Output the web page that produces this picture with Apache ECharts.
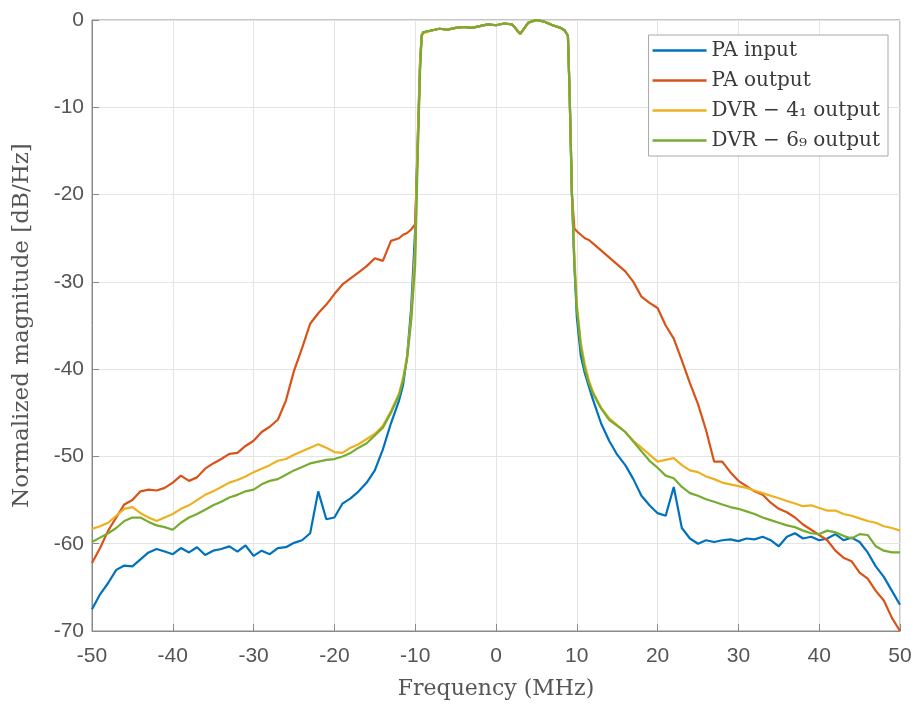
<!DOCTYPE html>
<html>
<head>
<meta charset="utf-8">
<script src="https://cdn.jsdelivr.net/npm/echarts@6/dist/echarts.min.js"></script>
<style>
  html, body { margin: 0; padding: 0; background: #fff; }
  #main { width: 915px; height: 705px; }
</style>
</head>
<body>
<div id="main"></div>
<script>
// frequency grid (MHz): lower skirt, passband, upper skirt
var freqLeft = [-50,-49,-48,-47,-46,-45,-44,-43,-42,-41,
  -40,-39,-38,-37,-36,-35,-34,-33,-32,-31,
  -30,-29,-28,-27,-26,-25,-24,-23,-22,-21,
  -20,-19,-18,-17,-16,-15,-14,-13,-12,
  -11.5,-11,-10.5,-10,-9.7,-9.4,-9.2];
var freqMid = [-9,-8,-7,-6,-5,-4,-3,-2,-1,0,1,2,3,4,5,6,7,8,8.5,8.9];
var freqRight = [9.1,9.4,9.7,10,10.5,11,11.5,
  12,13,14,15,16,17,18,19,20,
  21,22,23,24,25,26,27,28,29,30,
  31,32,33,34,35,36,37,38,39,40,
  41,42,43,44,45,46,47,48,49,50];

var passband = [-1.4,-1.2,-1.0,-1.1,-0.9,-0.8,-0.9,-0.7,-0.5,-0.6,-0.4,-0.5,-1.6,-0.3,0,-0.2,-0.6,-0.9,-1.2,-1.8];

var paInLeft = [-67.5,-65.8,-64.5,-63,-62.5,-62.6,-61.8,-61,-60.6,-60.9,
  -61.2,-60.5,-61,-60.4,-61.3,-60.8,-60.6,-60.3,-60.9,-60.2,
  -61.4,-60.8,-61.2,-60.5,-60.4,-59.9,-59.6,-58.8,-54,-57.2,
  -57,-55.4,-54.8,-54,-53,-51.6,-49.2,-46.2,-43.6,
  -41.8,-38.5,-33,-24,-14,-5,-1.8];
var paInRight = [-8,-20,-28,-34,-38.5,-40.5,-42,
  -43.5,-46.2,-48.2,-49.8,-51,-52.6,-54.5,-55.6,-56.5,
  -56.8,-53.5,-58.2,-59.4,-60,-59.6,-59.8,-59.6,-59.5,-59.7,
  -59.4,-59.5,-59.2,-59.6,-60.3,-59.2,-58.8,-59.4,-59.2,-59.6,
  -59.4,-58.9,-59.6,-59.3,-59.8,-61,-62.6,-63.8,-65.4,-67];

var paOutLeft = [-62.2,-60.5,-58.5,-57,-55.5,-55,-54,-53.8,-53.9,-53.6,
  -53,-52.2,-52.8,-52.4,-51.4,-50.8,-50.3,-49.7,-49.6,-48.8,
  -48.2,-47.2,-46.6,-45.8,-43.6,-40.2,-37.6,-34.8,-33.6,-32.6,
  -31.4,-30.3,-29.6,-28.9,-28.2,-27.3,-27.6,-25.3,-25,
  -24.6,-24.4,-24,-23.4,-15,-5,-1.8];
var paOutRight = [-8,-20,-23.9,-24.2,-24.6,-25,-25.2,
  -25.6,-26.4,-27.2,-28,-28.8,-30,-31.7,-32.4,-33,
  -35,-36.5,-39,-41.6,-44,-47,-50.6,-50.6,-51.8,-52.8,
  -53.4,-54,-54.4,-55.3,-56,-56.4,-57,-57.8,-58.4,-59,
  -59.6,-60.8,-61.6,-62,-63.3,-64,-65.4,-66.5,-68.5,-70];

var dvr4Left = [-58.3,-58,-57.6,-56.8,-56,-55.8,-56.5,-57,-57.4,-57,
  -56.6,-56,-55.6,-55,-54.4,-54,-53.5,-53,-52.7,-52.3,
  -51.8,-51.4,-51,-50.5,-50.3,-49.8,-49.4,-49,-48.6,-49,
  -49.5,-49.6,-49,-48.6,-48,-47.4,-46.5,-44.8,-42.8,
  -41,-38.5,-34,-26,-14,-5,-1.6];
var dvr4Right = [-8,-20,-27,-32.5,-37,-39.5,-41.3,
  -42.6,-44.4,-45.6,-46.4,-47.2,-48.2,-49,-49.8,-50.6,
  -50.4,-50.2,-51,-51.6,-51.8,-52.3,-52.6,-53,-53.2,-53.4,
  -53.6,-53.9,-54.2,-54.5,-54.8,-55.1,-55.4,-55.7,-55.6,-55.9,
  -56.2,-56.2,-56.6,-56.8,-57.1,-57.4,-57.6,-58,-58.2,-58.5];

var dvr6Left = [-59.8,-59.3,-58.8,-58.2,-57.4,-57,-57,-57.5,-57.9,-58.1,
  -58.4,-57.6,-57,-56.6,-56.1,-55.6,-55.2,-54.7,-54.4,-54,
  -53.8,-53.2,-52.8,-52.6,-52.1,-51.6,-51.2,-50.8,-50.6,-50.4,
  -50.3,-50,-49.6,-49,-48.5,-47.6,-46.7,-45,-43,
  -41.3,-38.8,-34.5,-28,-16,-6,-1.8];
var dvr6Right = [-8,-20,-28,-33,-37.5,-40,-41.6,
  -42.8,-44.5,-45.8,-46.5,-47.2,-48.3,-49.4,-50.5,-51.3,
  -52.2,-52.5,-53.5,-54.2,-54.5,-54.9,-55.2,-55.5,-55.8,-56,
  -56.3,-56.6,-57,-57.3,-57.6,-57.9,-58.1,-58.5,-58.8,-58.9,
  -58.5,-58.7,-59.1,-59.4,-58.9,-59,-60.3,-60.8,-61,-61];

var names = ['PA input', 'PA output', 'DVR \u2212 4\u2081 output', 'DVR \u2212 6\u2089 output'];
var colors = ['#0072BD', '#D95319', '#EDB120', '#77AC30'];

function build(left, right) {
  var xs = freqLeft.concat(freqMid, freqRight);
  var ys = left.concat(passband, right);
  return xs.map(function (x, i) { return [x, ys[i]]; });
}

var myChart = echarts.init(document.getElementById('main'));
var serif = '"DejaVu Serif", "Liberation Serif", serif';
var sans = '"Liberation Sans", Arial, sans-serif';

var seriesData = [
  build(paInLeft, paInRight),
  build(paOutLeft, paOutRight),
  build(dvr4Left, dvr4Right),
  build(dvr6Left, dvr6Right)
];

option = {
  animation: false,
  color: colors,
  grid: {
    left: 92, right: 15, top: 20, bottom: 71,
    show: true, borderColor: '#8a8a8a', borderWidth: 1, backgroundColor: '#fff'
  },
  legend: {
    orient: 'vertical',
    right: 27,
    top: 35,
    data: names,
    icon: 'rect',
    backgroundColor: '#fff',
    borderColor: '#a8a8a8',
    borderWidth: 1,
    padding: [5, 8, 5, 4],
    itemGap: 9,
    itemWidth: 54,
    itemHeight: 2.5,
    textStyle: { fontFamily: serif, fontSize: 20, color: '#3a3a3a', lineHeight: 21 }
  },
  xAxis: {
    type: 'value',
    min: -50, max: 50, interval: 10,
    name: 'Frequency (MHz)',
    nameLocation: 'middle',
    nameGap: 47,
    nameTextStyle: { fontFamily: serif, fontSize: 22, color: '#555' },
    axisLine: { onZero: false, lineStyle: { color: '#8a8a8a' } },
    axisTick: { inside: true, length: 7, lineStyle: { color: '#8a8a8a' } },
    axisLabel: { fontFamily: sans, fontSize: 21, color: '#555', margin: 15 },
    splitLine: { show: true, lineStyle: { color: '#e4e4e4' } }
  },
  yAxis: {
    type: 'value',
    min: -70, max: 0, interval: 10,
    name: 'Normalized magnitude [dB/Hz]',
    nameLocation: 'middle',
    nameGap: 58,
    nameTextStyle: { fontFamily: serif, fontSize: 23, color: '#555' },
    axisLine: { show: true, onZero: false, lineStyle: { color: '#8a8a8a' } },
    axisTick: { show: true, inside: true, length: 7, lineStyle: { color: '#8a8a8a' } },
    axisLabel: { fontFamily: sans, fontSize: 21, color: '#555', margin: 8 },
    splitLine: { show: true, lineStyle: { color: '#e4e4e4' } }
  },
  series: names.map(function (n, i) {
    return {
      name: n,
      type: 'line',
      data: seriesData[i],
      symbol: 'none',
      showSymbol: false,
      lineStyle: { width: 2.2, color: colors[i] },
      z: 2 + i
    };
  })
};

myChart.setOption(option);
</script>
</body>
</html>
